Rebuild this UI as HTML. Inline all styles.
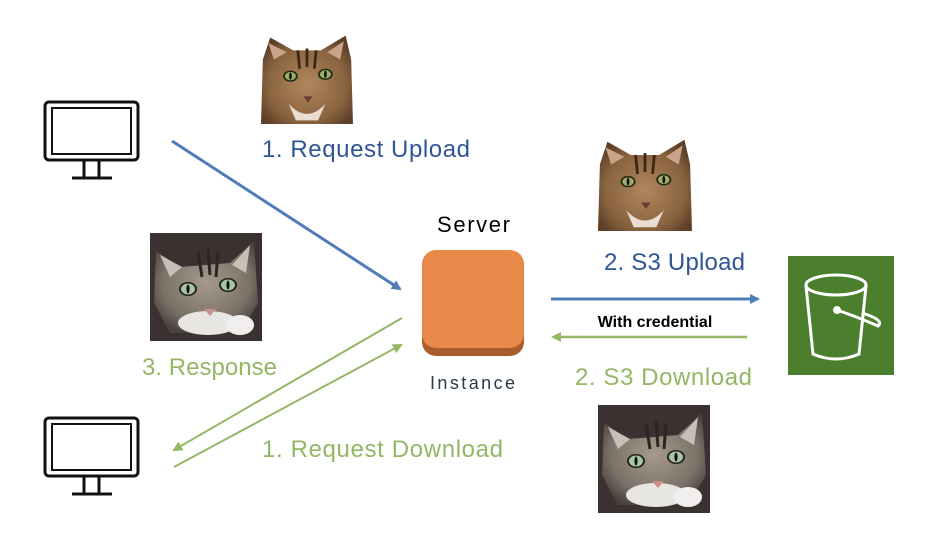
<!DOCTYPE html>
<html><head><meta charset="utf-8"><style>
html,body{margin:0;padding:0;background:#fff;}
svg{display:block;font-family:"Liberation Sans",Calibri,sans-serif;}
</style></head><body>
<svg width="932" height="550" viewBox="0 0 932 550" xmlns="http://www.w3.org/2000/svg">
<defs>
  <radialGradient id="bf" cx="50%" cy="55%" r="60%">
    <stop offset="0" stop-color="#b0875e"/><stop offset="0.7" stop-color="#8a6440"/><stop offset="1" stop-color="#5e4028"/>
  </radialGradient>
  <radialGradient id="gf" cx="50%" cy="45%" r="60%">
    <stop offset="0" stop-color="#a59a8c"/><stop offset="0.7" stop-color="#7b7268"/><stop offset="1" stop-color="#4a423d"/>
  </radialGradient>
  <g id="bcat">
    <polygon points="2,30 10,6 35,20 65,20 92,4 98,30 100,100 0,100" fill="url(#bf)"/>
    <polygon points="8,12 14,30 28,22" fill="#c9a48a"/>
    <polygon points="90,10 86,30 72,22" fill="#c9a48a"/>
    <path d="M30,78 Q50,100 70,78 L62,96 L38,96Z" fill="#e8ddd0"/>
    <ellipse cx="32" cy="48" rx="8" ry="6" fill="#1f2a12"/><ellipse cx="32" cy="48" rx="6" ry="4.5" fill="#9fae6a"/><ellipse cx="32" cy="48" rx="1.5" ry="4" fill="#111"/>
    <ellipse cx="70" cy="46" rx="8" ry="6" fill="#1f2a12"/><ellipse cx="70" cy="46" rx="6" ry="4.5" fill="#9fae6a"/><ellipse cx="70" cy="46" rx="1.5" ry="4" fill="#111"/>
    <path d="M46,70 L56,70 L51,77Z" fill="#6b3d32"/>
    <path d="M40,20 L42,40 M50,18 L50,38 M60,20 L58,40" stroke="#3b2818" stroke-width="3"/>
  </g>
  <g id="gcat">
    <rect x="0" y="0" width="112" height="108" fill="#3a3230"/>
    <polygon points="6,18 30,34 80,30 104,8 108,70 90,100 20,100 4,70" fill="url(#gf)"/>
    <polygon points="10,22 20,44 32,34" fill="#c8bfb6"/>
    <polygon points="100,12 96,40 82,32" fill="#c8bfb6"/>
    <ellipse cx="58" cy="90" rx="30" ry="12" fill="#e8e6e3"/>
    <ellipse cx="90" cy="92" rx="14" ry="10" fill="#f0efed"/>
    <ellipse cx="38" cy="56" rx="9" ry="7" fill="#222"/><ellipse cx="38" cy="56" rx="7" ry="5.5" fill="#a9c4a4"/><ellipse cx="38" cy="56" rx="1.6" ry="4.5" fill="#111"/>
    <ellipse cx="78" cy="52" rx="9" ry="7" fill="#222"/><ellipse cx="78" cy="52" rx="7" ry="5.5" fill="#a9c4a4"/><ellipse cx="78" cy="52" rx="1.6" ry="4.5" fill="#111"/>
    <path d="M54,76 L66,76 L60,83Z" fill="#c78f86"/>
    <path d="M48,18 L52,44 M58,16 L60,42 M68,18 L66,44" stroke="#2c2522" stroke-width="3"/>
  </g>
  <g id="mon" fill="none" stroke="#111">
    <rect x="45" y="0" width="93" height="58" rx="4" stroke-width="3"/>
    <rect x="52" y="6" width="79" height="46" stroke-width="2"/>
    <path d="M84,59 V75 M99,59 V75" stroke-width="3"/>
    <path d="M72,76 H112" stroke-width="3"/>
  </g>
  <marker id="ab" markerWidth="10" markerHeight="10" refX="8" refY="5" orient="auto" markerUnits="userSpaceOnUse"><path d="M0,0 L10,5 L0,10Z" fill="#4f7cb8"/></marker>
  <marker id="ag" markerWidth="10" markerHeight="10" refX="8" refY="5" orient="auto" markerUnits="userSpaceOnUse"><path d="M0,0 L10,5 L0,10Z" fill="#93b765"/></marker>
</defs>

<use href="#mon" x="0" y="102"/>
<use href="#mon" x="0" y="418"/>

<use href="#bcat" transform="translate(261,32) scale(0.92,0.92)"/>
<use href="#bcat" transform="translate(598,136) scale(0.94,0.95)"/>
<use href="#gcat" transform="translate(150,233)"/>
<use href="#gcat" transform="translate(598,405)"/>

<line x1="172" y1="141" x2="400" y2="289" stroke="#4f7cb8" stroke-width="3" marker-end="url(#ab)"/>
<line x1="402" y1="318" x2="174" y2="450" stroke="#93b765" stroke-width="2" marker-end="url(#ag)"/>
<line x1="174" y1="467" x2="401" y2="345" stroke="#93b765" stroke-width="2" marker-end="url(#ag)"/>
<line x1="551" y1="299" x2="758" y2="299" stroke="#4f7cb8" stroke-width="3" marker-end="url(#ab)"/>
<line x1="747" y1="337" x2="553" y2="337" stroke="#93b765" stroke-width="2.5" marker-end="url(#ag)"/>

<rect x="422" y="252" width="102" height="104" rx="14" fill="#a85d2c"/>
<rect x="422" y="250" width="102" height="98" rx="14" fill="#e8894a"/>

<rect x="788" y="256" width="106" height="119" fill="#4b7f2e"/>
<g fill="none" stroke="#fff" stroke-width="3">
  <ellipse cx="836" cy="285" rx="30" ry="10"/>
  <path d="M806,286 L813,354 Q836,364 859,354 L866,286"/>
  <path d="M837,310 Q860,318 878,326 Q885,320 862,313"/>
  <circle cx="837" cy="310" r="2.5" fill="#fff"/>
</g>

<text x="437" y="232" font-size="22" textLength="73" fill="#000">Server</text>
<text x="430" y="389" font-size="18" textLength="85" fill="#2a3a4a">Instance</text>
<text x="262" y="157" font-size="24" textLength="208" fill="#2f5597">1. Request Upload</text>
<text x="604" y="270" font-size="24" textLength="141" fill="#2f5597">2. S3 Upload</text>
<text x="655" y="327" font-size="16" font-weight="bold" text-anchor="middle" fill="#000">With credential</text>
<text x="575" y="385" font-size="24" textLength="177" fill="#93b765">2. S3 Download</text>
<text x="142" y="375" font-size="24" textLength="135" fill="#93b765">3. Response</text>
<text x="262" y="457" font-size="24" textLength="241" fill="#93b765">1. Request Download</text>
</svg>
</body></html>
